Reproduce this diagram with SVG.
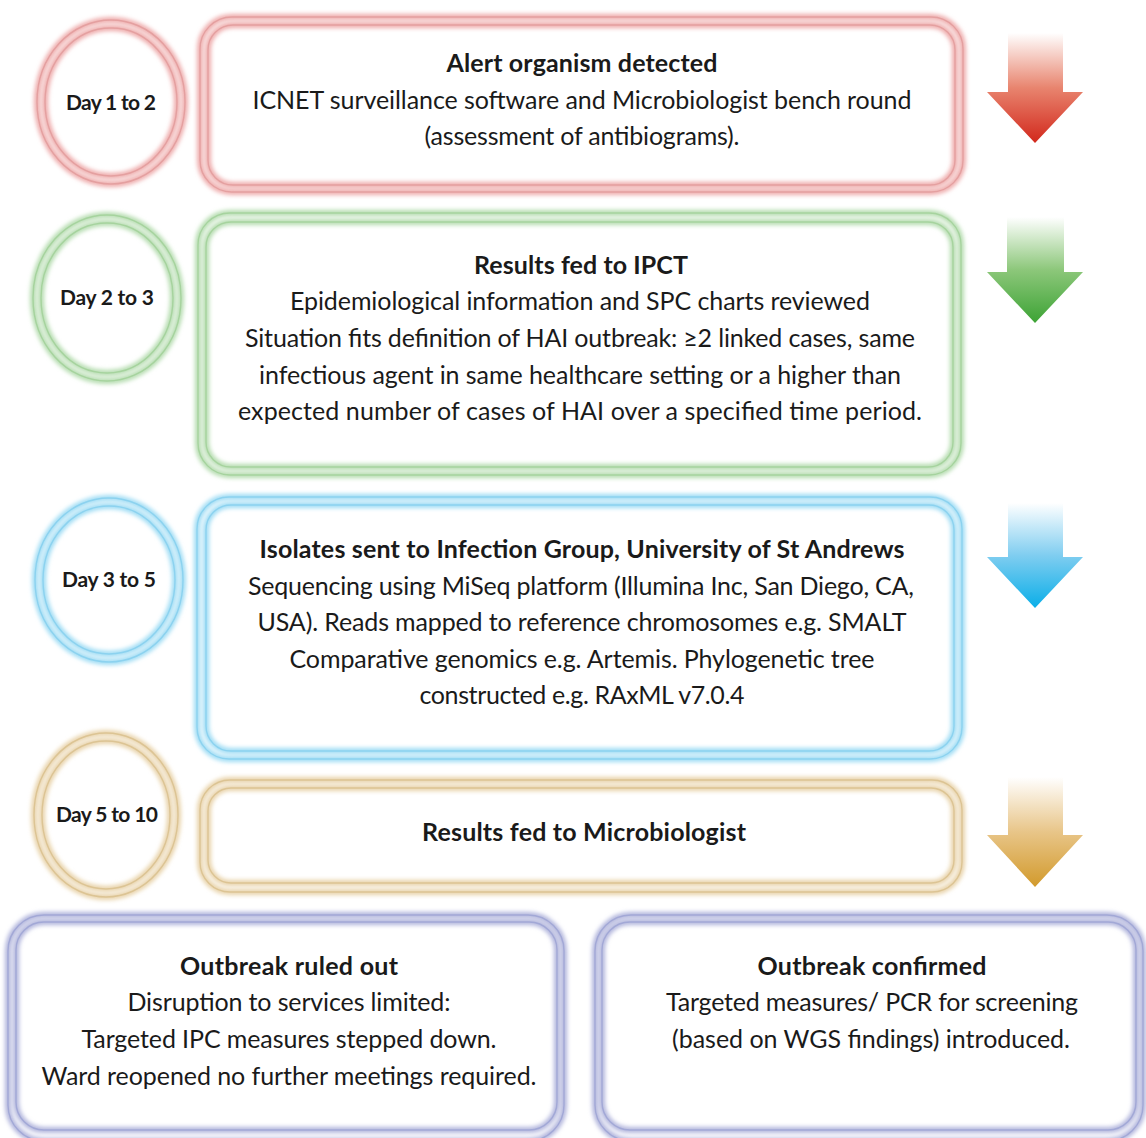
<svg xmlns="http://www.w3.org/2000/svg" width="1146" height="1138" viewBox="0 0 1146 1138">
<defs>
<filter id="soft" x="-10%" y="-10%" width="120%" height="120%"><feGaussianBlur stdDeviation="2.2"/></filter>
<linearGradient id="gRed" x1="0" y1="0" x2="0" y2="1"><stop offset="0" stop-color="#ffffff"/><stop offset="0.5" stop-color="#e8846e"/><stop offset="1" stop-color="#d2281c"/></linearGradient>
<linearGradient id="gGreen" x1="0" y1="0" x2="0" y2="1"><stop offset="0" stop-color="#ffffff"/><stop offset="0.5" stop-color="#8cc77a"/><stop offset="1" stop-color="#3da335"/></linearGradient>
<linearGradient id="gBlue" x1="0" y1="0" x2="0" y2="1"><stop offset="0" stop-color="#ffffff"/><stop offset="0.5" stop-color="#7fcdf0"/><stop offset="1" stop-color="#0aaee8"/></linearGradient>
<linearGradient id="gGold" x1="0" y1="0" x2="0" y2="1"><stop offset="0" stop-color="#ffffff"/><stop offset="0.5" stop-color="#e8c588"/><stop offset="1" stop-color="#d29a2c"/></linearGradient>
</defs>
<style>
text{font-family:Lato,"Open Sans","Liberation Sans",sans-serif;fill:#1a1a1a;text-anchor:middle}
.h{font-size:25px;font-weight:bold}
.b{font-size:25px}
.d{font-size:21px;font-weight:bold}
.glow{fill:none;stroke-width:6;filter:url(#soft)}
.line{fill:none;stroke-width:1.4}
.red .glow{stroke:#eeaaaa}.red .line{stroke:#e4a0a0}
.green .glow{stroke:#b4dcae}.green .line{stroke:#a6d39e}
.blue .glow{stroke:#9ddcf4}.blue .line{stroke:#8cd2ef}
.gold .glow{stroke:#e8d2a8}.gold .line{stroke:#dcc494}
.purple .glow{stroke:#b0b4dc}.purple .line{stroke:#a2a8d6}
</style>
<rect width="1146" height="1138" fill="#ffffff"/>

<g id="day1" class="red">
<ellipse class="glow" cx="111" cy="102" rx="74" ry="82"/><ellipse class="line" cx="111" cy="102" rx="74" ry="82"/>
<ellipse class="glow" cx="111" cy="102" rx="66" ry="74"/><ellipse class="line" cx="111" cy="102" rx="66" ry="74"/>
<text class="d" x="111" y="110" textLength="90">Day 1 to 2</text>
</g>
<g id="step1" class="red">
<rect class="glow" x="200" y="17" width="763" height="175" rx="32"/><rect class="line" x="200" y="17" width="763" height="175" rx="32"/>
<rect class="glow" x="208" y="25" width="747" height="160" rx="25"/><rect class="line" x="208" y="25" width="747" height="160" rx="25"/>
<text class="h" x="582" y="72" textLength="271">Alert organism detected</text>
<text class="b" x="582" y="109" textLength="659">ICNET surveillance software and Microbiologist bench round</text>
<text class="b" x="582" y="145" textLength="315">(assessment of antibiograms).</text>
</g>

<g id="day2" class="green">
<ellipse class="glow" cx="107" cy="298" rx="74" ry="83"/><ellipse class="line" cx="107" cy="298" rx="74" ry="83"/>
<ellipse class="glow" cx="107" cy="298" rx="66" ry="75"/><ellipse class="line" cx="107" cy="298" rx="66" ry="75"/>
<text class="d" x="107" y="305" textLength="94">Day 2 to 3</text>
</g>
<g id="step2" class="green">
<rect class="glow" x="198" y="213" width="763" height="262" rx="32"/><rect class="line" x="198" y="213" width="763" height="262" rx="32"/>
<rect class="glow" x="206" y="222" width="747" height="245" rx="25"/><rect class="line" x="206" y="222" width="747" height="245" rx="25"/>
<text class="h" x="581" y="274" textLength="214">Results fed to IPCT</text>
<text class="b" x="580" y="310" textLength="580">Epidemiological information and SPC charts reviewed</text>
<text class="b" x="580" y="347" textLength="670">Situation fits definition of HAI outbreak: ≥2 linked cases, same</text>
<text class="b" x="580" y="384" textLength="642">infectious agent in same healthcare setting or a higher than</text>
<text class="b" x="580" y="420" textLength="684">expected number of cases of HAI over a specified time period.</text>
</g>

<g id="day3" class="blue">
<ellipse class="glow" cx="109" cy="580" rx="74" ry="82"/><ellipse class="line" cx="109" cy="580" rx="74" ry="82"/>
<ellipse class="glow" cx="109" cy="580" rx="66" ry="74"/><ellipse class="line" cx="109" cy="580" rx="66" ry="74"/>
<text class="d" x="109" y="587" textLength="94">Day 3 to 5</text>
</g>
<g id="step3" class="blue">
<rect class="glow" x="197" y="497" width="765" height="262" rx="32"/><rect class="line" x="197" y="497" width="765" height="262" rx="32"/>
<rect class="glow" x="206" y="505" width="748" height="246" rx="25"/><rect class="line" x="206" y="505" width="748" height="246" rx="25"/>
<text class="h" x="582" y="558" textLength="645">Isolates sent to Infection Group, University of St Andrews</text>
<text class="b" x="581" y="595" textLength="666">Sequencing using MiSeq platform (Illumina Inc, San Diego, CA,</text>
<text class="b" x="582" y="631" textLength="649">USA). Reads mapped to reference chromosomes e.g. SMALT</text>
<text class="b" x="582" y="668" textLength="585">Comparative genomics e.g. Artemis. Phylogenetic tree</text>
<text class="b" x="582" y="704" textLength="325">constructed e.g. RAxML v7.0.4</text>
</g>

<g id="day4" class="gold">
<ellipse class="glow" cx="106" cy="815" rx="72" ry="82"/><ellipse class="line" cx="106" cy="815" rx="72" ry="82"/>
<ellipse class="glow" cx="106" cy="815" rx="64" ry="74"/><ellipse class="line" cx="106" cy="815" rx="64" ry="74"/>
<text class="d" x="107" y="822" textLength="102">Day 5 to 10</text>
</g>
<g id="step4" class="gold">
<rect class="glow" x="200" y="780" width="762" height="112" rx="30"/><rect class="line" x="200" y="780" width="762" height="112" rx="30"/>
<rect class="glow" x="208" y="788" width="746" height="95" rx="23"/><rect class="line" x="208" y="788" width="746" height="95" rx="23"/>
<text class="h" x="584" y="841" textLength="324">Results fed to Microbiologist</text>
</g>

<g id="ruledout" class="purple">
<rect class="glow" x="8" y="915" width="556" height="226" rx="36"/><rect class="line" x="8" y="915" width="556" height="226" rx="36"/>
<rect class="glow" x="16" y="922" width="541" height="208" rx="28"/><rect class="line" x="16" y="922" width="541" height="208" rx="28"/>
<text class="h" x="289" y="975" textLength="218">Outbreak ruled out</text>
<text class="b" x="289" y="1011" textLength="323">Disruption to services limited:</text>
<text class="b" x="289" y="1048" textLength="415">Targeted IPC measures stepped down.</text>
<text class="b" x="289" y="1085" textLength="495">Ward reopened no further meetings required.</text>
</g>
<g id="confirmed" class="purple">
<rect class="glow" x="595" y="915" width="548" height="226" rx="36"/><rect class="line" x="595" y="915" width="548" height="226" rx="36"/>
<rect class="glow" x="602" y="922" width="534" height="208" rx="28"/><rect class="line" x="602" y="922" width="534" height="208" rx="28"/>
<text class="h" x="872" y="975" textLength="229">Outbreak confirmed</text>
<text class="b" x="872" y="1011" textLength="412">Targeted measures/ PCR for screening</text>
<text class="b" x="871" y="1048" textLength="398">(based on WGS findings) introduced.</text>
</g>

<g id="connectors">
<path d="M1008,33 H1063 V92 H1083 L1035,143 L987,92 H1008 Z" fill="url(#gRed)"/>
<path d="M1007,217 H1064 V272 H1083 L1035,323 L987,272 H1007 Z" fill="url(#gGreen)"/>
<path d="M1008,503 H1063 V557 H1083 L1035,608 L987,557 H1008 Z" fill="url(#gBlue)"/>
<path d="M1008,777 H1063 V835 H1083 L1035,887 L987,835 H1008 Z" fill="url(#gGold)"/>
</g>
</svg>
